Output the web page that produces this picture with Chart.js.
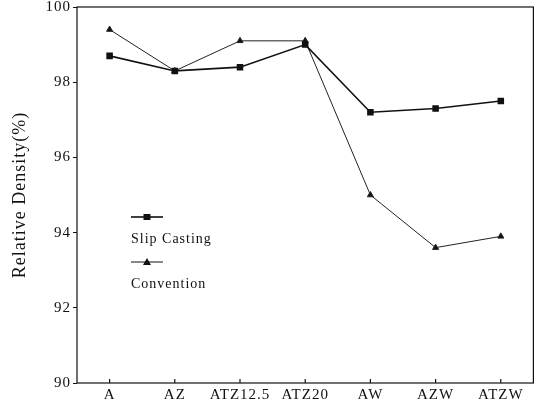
<!DOCTYPE html>
<html>
<head>
<meta charset="utf-8">
<script src="https://cdn.jsdelivr.net/npm/chart.js@4.4.0/dist/chart.umd.min.js"></script>
<style>
  html, body { margin: 0; padding: 0; background: #fff; }
  #box { width: 539px; height: 405px; }
</style>
</head>
<body>
<div id="box"><canvas id="density"></canvas></div>
<script>
// sample names on the x axis
var campioni = ["A", "AZ", "ATZ12.5", "ATZ20", "AW", "AZW", "ATZW"];

// relative density (%) for the two routes
var slipCasting = [98.7, 98.3, 98.4, 99.0, 97.2, 97.3, 97.5];
var convention = [99.4, 98.3, 99.1, 99.1, 95.0, 93.6, 93.9];

var yTicks = [90, 92, 94, 96, 98, 100];

var serif = "'Liberation Serif', 'DejaVu Serif', serif";

// spaced-out lettering for every text on the canvas
var spaziatura = {
  id: 'spaziatura',
  beforeDraw: function(chart){
    chart.ctx.letterSpacing = '1px';
  }
};

// box around the plot, inward ticks on the x axis and the legend inside the plot
var cornice = {
  id: 'cornice',
  afterDraw: function(chart){
    var ctx = chart.ctx;
    var a = chart.chartArea;
    var x = chart.scales.x;

    ctx.save();
    ctx.strokeStyle = '#111';
    ctx.lineWidth = 1.2;
    ctx.strokeRect(a.left, a.top, a.right - a.left, a.bottom - a.top);

    for (var i = 0; i < campioni.length; i++) {
      var px = x.getPixelForValue(i);
      ctx.beginPath();
      ctx.moveTo(px, a.bottom);
      ctx.lineTo(px, a.bottom - 4);
      ctx.stroke();
    }

    // legend
    var lx = 131, lw = 32;
    var voci = [
      { testo: "Slip Casting", ly: 217, forma: 'rect', spessore: 1.6 },
      { testo: "Convention", ly: 262, forma: 'triangle', spessore: 1 }
    ];
    ctx.fillStyle = '#111';
    ctx.font = "14px " + serif;
    ctx.textBaseline = 'middle';
    for (var j = 0; j < voci.length; j++) {
      var v = voci[j];
      ctx.lineWidth = v.spessore;
      ctx.beginPath();
      ctx.moveTo(lx, v.ly);
      ctx.lineTo(lx + lw, v.ly);
      ctx.stroke();
      var cx = lx + lw / 2;
      ctx.beginPath();
      if (v.forma == 'rect') {
        ctx.rect(cx - 3.5, v.ly - 3, 7, 6);
      } else {
        ctx.moveTo(cx, v.ly - 4);
        ctx.lineTo(cx + 4, v.ly + 3);
        ctx.lineTo(cx - 4, v.ly + 3);
        ctx.closePath();
      }
      ctx.fill();
      ctx.fillText(v.testo, lx, v.ly + 22);
    }
    ctx.restore();
  }
};

function drawDensity(etichette, serie1, serie2){

  var ctx = document.getElementById('density').getContext('2d');
  var chart = new Chart(ctx, {
    type: 'line',
    data: {
      labels: etichette,
      datasets: [{
          label: 'Slip Casting',
          data: serie1,
          borderColor: '#111',
          backgroundColor: '#111',
          borderWidth: 1.6,
          pointStyle: 'rect',
          pointRadius: 3.5,
          tension: 0
        },
        {
          label: 'Convention',
          data: serie2,
          borderColor: '#222',
          backgroundColor: '#111',
          borderWidth: 1,
          pointStyle: 'triangle',
          pointRadius: 3.5,
          tension: 0
        },
      ],
    },
    options: {
      responsive: true,
      maintainAspectRatio: false,
      animation: false,
      layout: { padding: { top: 7, right: 3, left: 0, bottom: 0 } },
      plugins: {
        legend: { display: false },
        tooltip: { enabled: false }
      },
      scales: {
        x: {
          offset: true,
          grid: { display: false, drawTicks: false },
          border: { display: false },
          ticks: {
            color: '#111',
            padding: 3,
            maxRotation: 0,
            autoSkip: false,
            font: { family: serif, size: 15 }
          },
          afterFit: function(s){ s.height = 22; }
        },
        y: {
          min: 90,
          max: 100,
          afterBuildTicks: function(s){
            s.ticks = yTicks.map(function(v){ return { value: v }; });
          },
          grid: { drawOnChartArea: false, tickLength: 4, color: '#111' },
          border: { display: false },
          ticks: {
            color: '#111',
            padding: 2,
            font: { family: serif, size: 15 }
          },
          title: {
            display: true,
            text: 'Relative Density(%)',
            color: '#111',
            padding: { top: 9, bottom: 0 },
            font: { family: serif, size: 18 }
          },
          afterFit: function(s){
            s.width = 77;
            s.paddingTop = 0;
          }
        }
      }
    },
    plugins: [spaziatura, cornice]
  });
}

drawDensity(campioni, slipCasting, convention);
</script>
</body>
</html>
